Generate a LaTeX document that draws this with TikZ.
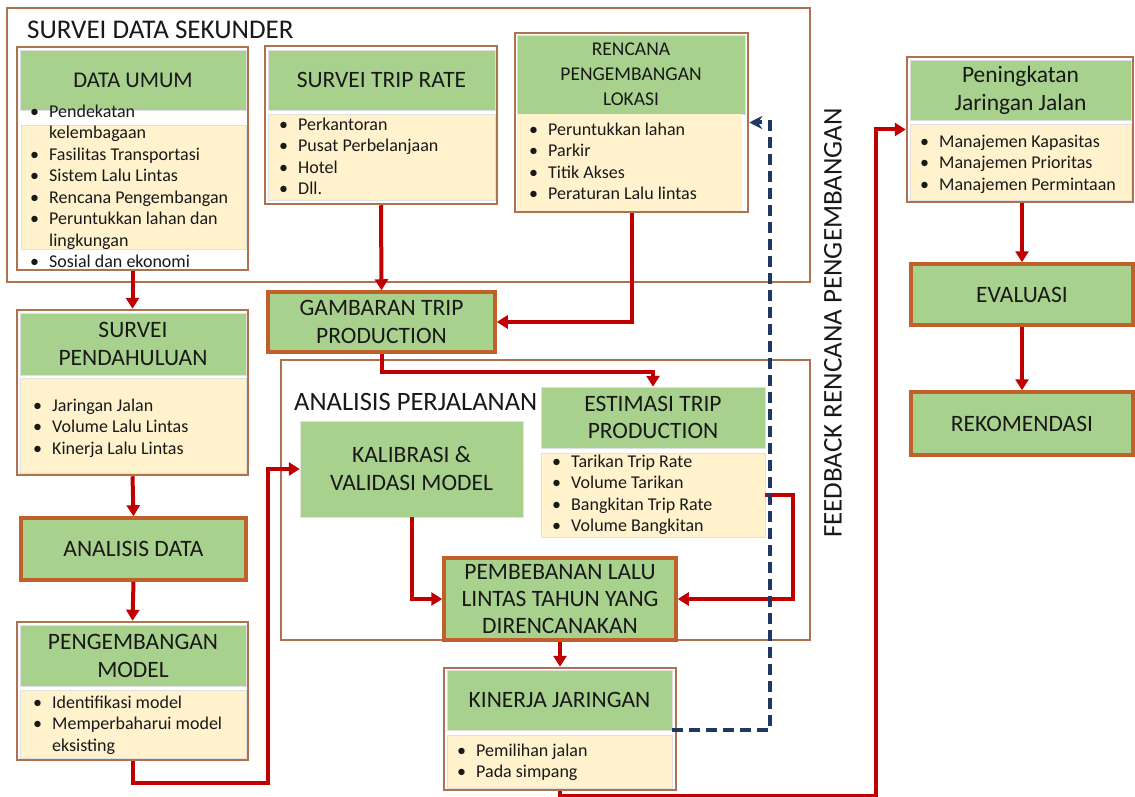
\documentclass[tikz,border=0pt]{standalone}
\usepackage{fontspec}
\setmainfont{Carlito}
\usetikzlibrary{arrows.meta,positioning}
\definecolor{headgreen}{HTML}{A9D18E}
\definecolor{bodycream}{HTML}{FFF2CC}
\definecolor{framebrown}{HTML}{B0714F}
\definecolor{thickbrown}{HTML}{C0602A}
\definecolor{flowred}{HTML}{C00000}
\definecolor{feednavy}{HTML}{1F3864}
\newcommand{\bul}{\makebox[19pt][l]{\textbullet}}
\newcommand{\cont}{\hspace*{19pt}}
\tikzset{
  group frame/.style={
    rectangle,
    draw=framebrown,
    line width=2pt,
    inner sep=0pt,
  },
  group title/.style={
    inner sep=0pt,
    text=black!90,
    font=\fontsize{27}{31}\selectfont,
  },
  box frame/.style={
    rectangle,
    draw=framebrown,
    line width=2.5pt,
    fill=white,
    inner sep=0pt,
  },
  head box/.style={
    rectangle,
    fill=headgreen,
    draw=black!12,
    line width=0.5pt,
    inner sep=0pt,
    align=center,
    text=black!90,
    font=\fontsize{23.5}{28}\selectfont,
  },
  body box/.style={
    rectangle,
    fill=bodycream,
    draw=black!12,
    line width=0.5pt,
    inner sep=0pt,
  },
  step box/.style={head box, draw=thickbrown, line width=3.5pt},
  item list/.style={
    anchor=north west,
    inner sep=0pt,
    align=left,
    text=black!90,
    font=\fontsize{18}{21.5}\selectfont,
  },
  flow arrow/.style={-{Triangle[length=11pt,width=13pt]}, draw=flowred, line width=4pt},
  feed arrow/.style={-{Stealth[length=13pt,width=13pt]}, draw=feednavy, line width=4pt, dash pattern=on 11pt off 6pt},
}
\begin{document}
\begin{tikzpicture}[x=1pt,y=-1pt]
  \fill[white] (0,0) rectangle (1135,797);
  \useasboundingbox (0,0) rectangle (1135,797);

  % survei data sekunder
  \node[group frame, minimum width=803pt, minimum height=274pt] (sekunder) at (408.5,145) {};
  \node[group title, anchor=west] (sekunder title) at (27,30) {SURVEI DATA SEKUNDER};

  \node[box frame, minimum width=231pt, minimum height=223pt] (um) at (132.5,158.5) {};
  \node[body box, minimum width=225pt, minimum height=124pt] (umb) at (133.5,187) {};
  \node[head box, minimum width=226pt, minimum height=60pt, font=\fontsize{22.5}{28}\selectfont] (umh) at (133,80) {DATA UMUM};
  \node[item list] (umlist) at (30,102) {\strut\bul Pendekatan\\ \cont kelembagaan\\ \bul Fasilitas Transportasi\\
    \bul Sistem Lalu Lintas\\ \bul Rencana Pengembangan\\ \bul Peruntukkan lahan dan\\ \cont lingkungan\\ \bul Sosial dan ekonomi};

  \node[box frame, minimum width=232pt, minimum height=158pt] (tr) at (381,125) {};
  \node[head box, minimum width=227pt, minimum height=60pt] (trh) at (381.5,80) {SURVEI TRIP RATE};
  \node[body box, minimum width=227pt, minimum height=86pt] (trb) at (381.5,157) {};
  \node[item list] (trlist) at (279,115) {\strut\bul Perkantoran\\ \bul Pusat Perbelanjaan\\ \bul Hotel\\ \bul Dll.};

  \node[box frame, minimum width=233pt, minimum height=179pt] (rl) at (631.5,122.5) {};
  \node[head box, minimum width=228pt, minimum height=79pt, font=\fontsize{19.5}{25}\selectfont] (rlh) at (631,74.5) {RENCANA\\PENGEMBANGAN\\LOKASI};
  \node[body box, minimum width=225pt, minimum height=97pt, draw=none] (rlb) at (629.5,162.5) {};
  \node[item list] (rllist) at (529,120) {\strut\bul Peruntukkan lahan\\ \bul Parkir\\ \bul Titik Akses\\ \bul Peraturan Lalu lintas};

  \node[step box, minimum width=227pt, minimum height=60pt] (gtp) at (381.5,322) {GAMBARAN TRIP\\PRODUCTION};

  % analisis perjalanan
  \node[group frame, minimum width=529pt, minimum height=280pt] (analisis) at (545.5,500) {};
  \node[group title, anchor=west, font=\fontsize{26.5}{30}\selectfont] (analisis title) at (294,402) {ANALISIS PERJALANAN};

  \node[head box, minimum width=224pt, minimum height=61pt, font=\fontsize{23.5}{27}\selectfont] (eth) at (653,417.5) {ESTIMASI TRIP\\PRODUCTION};
  \node[body box, minimum width=224pt, minimum height=84pt] (etb) at (653,495) {};
  \node[item list] (etlist) at (552,452) {\strut\bul Tarikan Trip Rate\\ \bul Volume Tarikan\\ \bul Bangkitan Trip Rate\\ \bul Volume Bangkitan};

  \node[head box, minimum width=223pt, minimum height=96pt] (kvm) at (411.5,469) {KALIBRASI \&\\VALIDASI MODEL};
  \node[step box, minimum width=232pt, minimum height=82pt, font=\fontsize{23.5}{27}\selectfont] (plt) at (560,599) {PEMBEBANAN LALU\\LINTAS TAHUN YANG\\DIRENCANAKAN};

  \node[box frame, minimum width=232pt, minimum height=122pt] (kj) at (560,729) {};
  \node[head box, minimum width=225pt, minimum height=60pt] (kjh) at (559.5,700) {KINERJA JARINGAN};
  \node[body box, minimum width=225pt, minimum height=53pt] (kjb) at (559.5,761.5) {};
  \node[item list] (kjlist) at (457,741) {\strut\bul Pemilihan jalan\\ \bul Pada simpang};

  % kolom kiri
  \node[box frame, minimum width=231pt, minimum height=165pt] (sp) at (132.5,392.5) {};
  \node[head box, minimum width=226pt, minimum height=62pt] (sph) at (133,344) {SURVEI\\PENDAHULUAN};
  \node[body box, minimum width=226pt, minimum height=95pt] (spb) at (133,425.5) {};
  \node[item list] (splist) at (33,396) {\strut\bul Jaringan Jalan\\ \bul Volume Lalu Lintas\\ \bul Kinerja Lalu Lintas};

  \node[step box, minimum width=225pt, minimum height=62pt] (ad) at (133.5,549) {ANALISIS DATA};

  \node[box frame, minimum width=231pt, minimum height=138pt] (pm) at (132.5,691) {};
  \node[head box, minimum width=226pt, minimum height=61pt] (pmh) at (133,655.5) {PENGEMBANGAN\\MODEL};
  \node[body box, minimum width=226pt, minimum height=68pt] (pmb) at (133,724) {};
  \node[item list] (pmlist) at (33,693) {\strut\bul Identifikasi model\\ \bul Memperbaharui model\\ \cont eksisting};

  % kolom kanan
  \node[box frame, minimum width=226pt, minimum height=145pt] (pj) at (1020,129.5) {};
  \node[head box, minimum width=221pt, minimum height=60pt] (pjh) at (1020.5,90) {Peningkatan\\Jaringan Jalan};
  \node[body box, minimum width=221pt, minimum height=76pt] (pjb) at (1020.5,162) {};
  \node[item list] (pjlist) at (920,132) {\strut\bul Manajemen Kapasitas\\ \bul Manajemen Prioritas\\ \bul Manajemen Permintaan};

  \node[step box, minimum width=222pt, minimum height=61pt] (ev) at (1022,294.5) {EVALUASI};
  \node[step box, minimum width=222pt, minimum height=63pt] (rk) at (1022,423.5) {REKOMENDASI};

  \node[rotate=90, inner sep=0pt, text=black!90, font=\fontsize{27}{31}\selectfont] (feedback) at (833,323) {FEEDBACK RENCANA PENGEMBANGAN};

  % alur
  \draw[flow arrow] (um.south) -- (sp.north);
  \draw[flow arrow] (tr.south) -- (gtp.north);
  \draw[flow arrow] (rl.south) |- (gtp.east);
  \draw[flow arrow] (gtp.south) -- ++(0,18) -| (eth.north);
  \draw[flow arrow] (sp.south) -- (ad.north);
  \draw[flow arrow] (ad.south) -- (pm.north);
  \draw[flow arrow] (pm.south) -- ++(0,22) -| ([xshift=-32pt]kvm.west) -- (kvm.west);
  \draw[flow arrow] (kvm.south) |- (plt.west);
  \draw[flow arrow] (etb.east) -- ++(28,0) |- (plt.east);
  \draw[flow arrow] (plt.south) -- (kj.north);
  \draw[flow arrow] (kj.south) -- ++(0,5) -| ([xshift=-30pt]pj.west) -- (pj.west);
  \draw[flow arrow] (ev.north |- pj.south) -- (ev.north);
  \draw[flow arrow] (ev.south) -- (rk.north);
  \draw[feed arrow] (kjh.south east) -- ++(98,0) |- (rl.east);
\end{tikzpicture}
\end{document}
